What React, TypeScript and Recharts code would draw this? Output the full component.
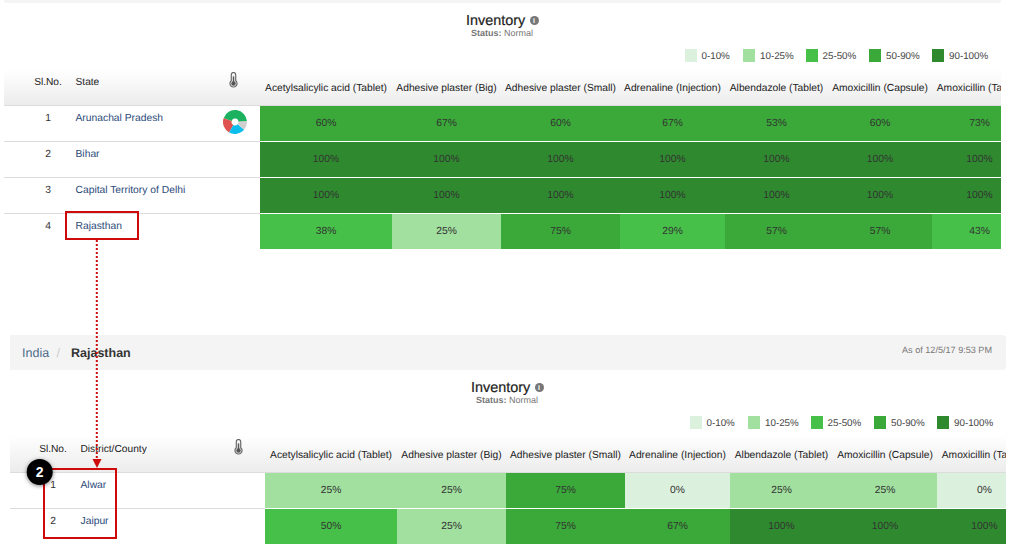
import React from "react";
import { BarChart, Bar, XAxis, YAxis, PieChart, Pie, Cell } from "recharts";

// ---------- data ----------
const drugs = [
  "Acetylsalicylic acid (Tablet)",
  "Adhesive plaster (Big)",
  "Adhesive plaster (Small)",
  "Adrenaline (Injection)",
  "Albendazole (Tablet)",
  "Amoxicillin (Capsule)",
  "Amoxicillin (Tablet)",
];
const states = ["Arunachal Pradesh", "Bihar", "Capital Territory of Delhi", "Rajasthan"];
const arunachalValues = [60, 67, 60, 67, 53, 60, 73];
const biharValues = [100, 100, 100, 100, 100, 100, 100];
const delhiValues = [100, 100, 100, 100, 100, 100, 100];
const rajasthanValues = [38, 25, 75, 29, 57, 57, 43];
const districts = ["Alwar", "Jaipur"];
const alwarValues = [25, 25, 75, 0, 25, 25, 0];
const jaipurValues = [50, 25, 75, 67, 100, 100, 100];
const legendLabels = ["0-10%", "10-25%", "25-50%", "50-90%", "90-100%"];
const legendUpperBounds = [10, 25, 50, 90, 100];
const pieNames = ["Normal", "Low", "Stockout", "Unknown"];
const pieShares = [44, 22, 22, 12];

// ---------- layout and styles ----------
const FONT = '"Liberation Sans", Arial, sans-serif';
const legendColors = ["#dcf1dd", "#a1e09f", "#47c049", "#3aa939", "#2f8a2f"];
const pieColors = ["#1bb15f", "#e0524f", "#0dbdec", "#cfcfcf"];
const columnWidths = [132, 109, 119, 105, 103, 104, 95];
const visibleWidth = 741;
const legendSwatchX = [685, 743, 806, 869, 932];
const legendTextX = [701.5, 760, 822.5, 886, 949];

const colorForValue = (v: number) => legendColors[legendUpperBounds.findIndex((b) => v <= b)];

const columnCentres = columnWidths.map(
  (w, i) => columnWidths.slice(0, i).reduce((a, b) => a + b, 0) + w / 2,
);

function buildRows(names: string[], values: number[][]) {
  return names.map((name, r) => {
    const row: Record<string, unknown> = { name, sl: r + 1, values: values[r] };
    columnWidths.forEach((w, c) => (row[`c${c}`] = w));
    return row;
  });
}

function T({ x, cy, size = 10, color = "#333", weight = 400, anchor = "left", stroke, children }: any) {
  const lh = 16;
  const base: React.CSSProperties = {
    position: "absolute",
    top: cy - lh / 2,
    lineHeight: `${lh}px`,
    fontSize: size,
    color,
    fontWeight: weight,
    whiteSpace: "nowrap",
    fontFamily: FONT,
    textRendering: "geometricPrecision",
    WebkitTextStroke: stroke,
  };
  if (anchor === "center") {
    base.left = x - 200;
    base.width = 400;
    base.textAlign = "center";
  } else if (anchor === "right") {
    base.left = x - 400;
    base.width = 400;
    base.textAlign = "right";
  } else {
    base.left = x;
  }
  return <div style={base}>{children}</div>;
}

function Thermometer({ cx, cy }: { cx: number; cy: number }) {
  return (
    <svg style={{ position: "absolute", left: cx - 5.5, top: cy - 8, width: 11, height: 16 }} viewBox="0 0 12 18">
      <path
        d="M3.5 3 a2.5 2.5 0 0 1 5 0 V9.8 a4 4 0 1 1 -5 0 Z"
        fill="#f2f2f2"
        stroke="#666"
        strokeWidth={1.3}
      />
      <rect x={5.2} y={5} width={1.6} height={7} fill="#555" />
      <circle cx={6} cy={13} r={2.5} fill="#555" />
    </svg>
  );
}

function Panel({
  top,
  shift,
  headerTop,
  firstHeader,
  names,
  values,
  left,
  height,
}: {
  top: number;
  shift: number;
  headerTop: number;
  firstHeader: string;
  names: string[];
  values: number[][];
  left: number;
  height: number;
}) {
  const rows = buildRows(names, values);
  const clipId = `header-clip-${shift}`;
  const plotRight = 260 + shift + visibleWidth;

  const YTick = (p: any) => {
    const i = p.index as number;
    const rowY = p.y as number;
    return (
      <g fontFamily={FONT} fontSize={10.3} textRendering="geometricPrecision">
        <text x={48 + shift} y={rowY - 3} textAnchor="middle" fill="#333">
          {i + 1}
        </text>
        <text x={75.5 + shift} y={rowY - 3} fill="#2b4a7a">
          {p.payload.value}
        </text>
        {i < names.length - 1 && (
          <line x1={left} x2={260 + shift} y1={rowY + 17.5} y2={rowY + 17.5} stroke="#dcdcdc" />
        )}
      </g>
    );
  };

  const XTick = (p: any) => (
    <g clipPath={`url(#${clipId})`}>
      <text
        x={p.x}
        y={87.5 + 3.5}
        textAnchor="middle"
        fontFamily={FONT}
        fontSize={10.25}
        fill="#222"
        textRendering="geometricPrecision"
      >
        {drugs[p.index]}
      </text>
    </g>
  );

  return (
    <div style={{ position: "absolute", left: 0, top, width: 1019, height }}>
      <div
        style={{
          position: "absolute",
          left,
          top: headerTop,
          width: plotRight - left,
          height: 105 - headerTop,
          background: "linear-gradient(#ffffff, #ececec)",
          borderBottom: "1px solid #dcdcdc",
        }}
      />
      <T x={495.7 + shift} cy={21} size={14.4} color="#222" anchor="center" stroke="0.2px #222">
        Inventory
      </T>
      <div
        style={{
          position: "absolute",
          left: 529.5 + shift,
          top: 15.5,
          width: 9,
          height: 9,
          borderRadius: "50%",
          background: "#777",
          color: "#fff",
          fontSize: 7,
          lineHeight: "9px",
          textAlign: "center",
          fontWeight: 700,
          fontFamily: FONT,
        }}
      >
        i
      </div>
      <T x={502 + shift} cy={33} size={9} color="#777" anchor="center">
        <b>Status:</b> Normal
      </T>
      {legendLabels.map((label, i) => (
        <React.Fragment key={label}>
          <div
            style={{
              position: "absolute",
              left: legendSwatchX[i] + shift,
              top: 49,
              width: 12,
              height: 13,
              background: legendColors[i],
            }}
          />
          <T x={legendTextX[i] + shift} cy={56.5} size={9.8} color="#444">
            {label}
          </T>
        </React.Fragment>
      ))}
      <T x={48 + shift} cy={82.5} size={10.2} color="#222" anchor="center">
        Sl.No.
      </T>
      <T x={75.5 + shift} cy={82.5} size={10.2} color="#222">
        {firstHeader}
      </T>
      <Thermometer cx={233 + shift} cy={80} />
      <div style={{ position: "absolute", left: 0, top: 0 }}>
        <BarChart
          width={1019}
          height={height}
          data={rows}
          layout="vertical"
          barCategoryGap={0}
          margin={{ top: 76, right: 1019 - plotRight, bottom: height - 106 - 36 * names.length, left: 0 }}
        >
          <defs>
            <clipPath id={clipId}>
              <rect x={0} y={0} width={plotRight} height={height} />
            </clipPath>
          </defs>
          <XAxis
            type="number"
            xAxisId={0}
            orientation="top"
            height={30}
            domain={[0, visibleWidth]}
            allowDataOverflow
            ticks={columnCentres}
            interval={0}
            tick={XTick}
            tickLine={false}
            axisLine={false}
          />
          <YAxis
            type="category"
            dataKey="name"
            width={260 + shift}
            interval={0}
            tick={YTick}
            tickLine={false}
            axisLine={false}
          />
          {columnWidths.map((span, c) => (
            <Bar
              key={c}
              dataKey={`c${c}`}
              stackId="cells"
              isAnimationActive={false}
              shape={(b: any) => {
                const v = b.payload.values[c] as number;
                return (
                  <g>
                    <rect x={b.x} y={b.y} width={b.width} height={b.height - 1} fill={colorForValue(v)} />
                    <text
                      x={b.x + span / 2}
                      y={b.y + 20}
                      textAnchor="middle"
                      fontFamily={FONT}
                      fontSize={10.3}
                      fill="#333"
                      textRendering="geometricPrecision"
                    >
                      {v}%
                    </text>
                  </g>
                );
              }}
            />
          ))}
        </BarChart>
      </div>
    </div>
  );
}

export default function App() {
  const pieData = pieNames.map((name, i) => ({ name, share: pieShares[i] }));
  return (
    <div
      style={{
        position: "absolute",
        left: 0,
        top: 0,
        width: 1019,
        height: 550,
        overflow: "hidden",
        background: "#fff",
        fontFamily: FONT,
      }}
    >
      <div
        style={{
          position: "absolute",
          left: 4,
          top: 0,
          width: 997,
          height: 3,
          background: "#f4f4f4",
          borderRadius: "0 0 4px 4px",
        }}
      />
      <Panel
        top={0}
        shift={0}
        headerTop={70}
        firstHeader="State"
        names={states}
        values={[arunachalValues, biharValues, delhiValues, rajasthanValues]}
        left={4}
        height={260}
      />
      <div style={{ position: "absolute", left: 223, top: 109.5 }}>
        <PieChart width={24} height={24} margin={{ top: 0, right: 0, bottom: 0, left: 0 }}>
          <Pie
            data={pieData}
            dataKey="share"
            cx={12}
            cy={12}
            innerRadius={3.5}
            outerRadius={12}
            startAngle={3}
            endAngle={363}
            stroke="none"
            isAnimationActive={false}
          >
            {pieData.map((d, i) => (
              <Cell key={d.name} fill={pieColors[i]} />
            ))}
          </Pie>
        </PieChart>
      </div>

      <div
        style={{
          position: "absolute",
          left: 10,
          top: 335,
          width: 996,
          height: 35,
          background: "#f4f4f4",
          borderRadius: "0 4px 4px 0",
        }}
      />
      <T x={22} cy={352.5} size={12.5} color="#4d6b8a">
        India
      </T>
      <T x={56.5} cy={352.5} size={12.5} color="#cccccc">
        /
      </T>
      <T x={71} cy={352.5} size={12.5} color="#333" weight={700}>
        Rajasthan
      </T>
      <T x={992} cy={349.5} size={9.1} color="#777" anchor="right">
        As of 12/5/17 9:53 PM
      </T>

      <Panel
        top={367}
        shift={5}
        headerTop={68}
        firstHeader="District/County"
        names={districts}
        values={[alwarValues, jaipurValues]}
        left={10}
        height={190}
      />

      <svg style={{ position: "absolute", left: 0, top: 0 }} width={1019} height={550}>
        <defs>
          <filter id="badge-shadow" x="-40%" y="-40%" width="180%" height="180%">
            <feDropShadow dx={0} dy={1} stdDeviation={2} floodColor="#000" floodOpacity={0.5} />
          </filter>
        </defs>
        <rect x={66} y={212} width={72} height={27} fill="none" stroke="#cf0a0a" strokeWidth={2} />
        <line x1={96.8} x2={96.8} y1={240} y2={460} stroke="#cf0a0a" strokeWidth={2} strokeDasharray="2 2" />
        <polygon points="92.5,459 101.5,459 97,468" fill="#cf0a0a" />
        <rect x={44} y={469} width={72} height={69} fill="none" stroke="#cf0a0a" strokeWidth={2} />
        <circle cx={39.7} cy={472} r={13} fill="#000" filter="url(#badge-shadow)" />
        <text x={39.7} y={477} textAnchor="middle" fontFamily={FONT} fontSize={14} fontWeight={700} fill="#fff">
          2
        </text>
      </svg>
    </div>
  );
}
